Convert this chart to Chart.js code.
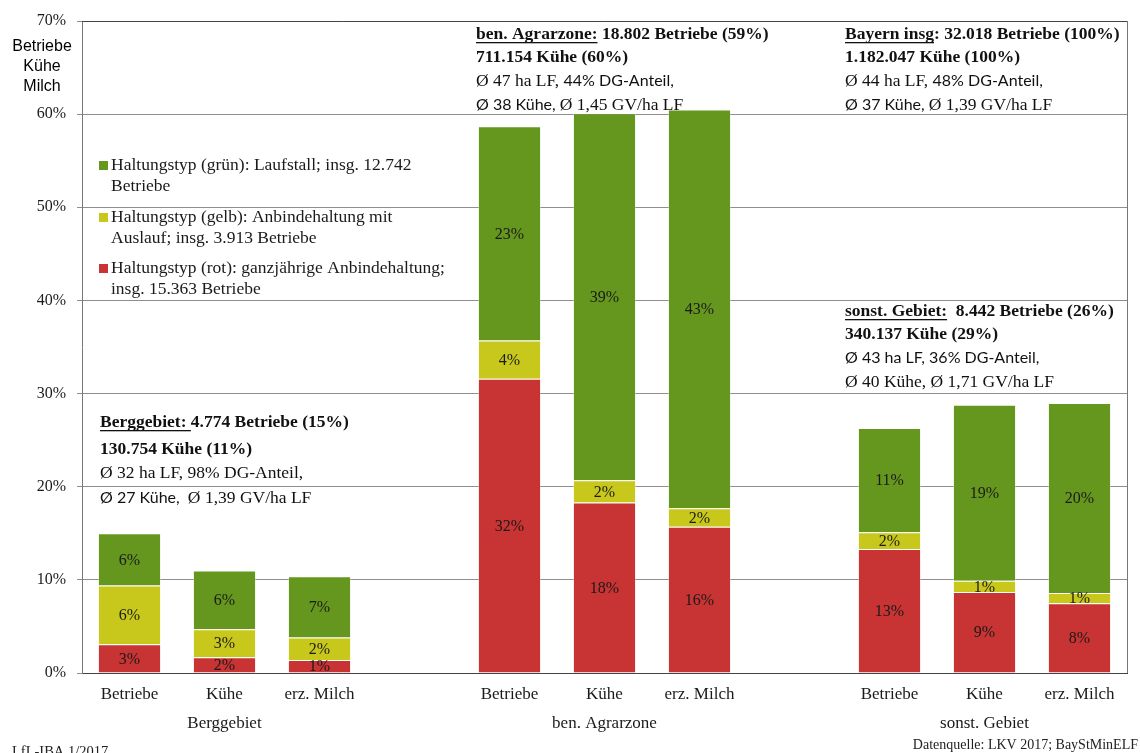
<!DOCTYPE html>
<html>
<head>
<meta charset="utf-8">
<script src="https://cdn.jsdelivr.net/npm/chart.js@4.4.0/dist/chart.umd.min.js"></script>
<style>
  html, body { margin: 0; padding: 0; background: #fff; }
  #wrap { width: 1140px; height: 753px; }
</style>
</head>
<body>
<div id="wrap"><canvas id="milkChart" width="1140" height="753"></canvas></div>
<script>
// categories: three regions, empty slot between them
const categories = ["Betriebe", "Kühe", "erz. Milch", "", "Betriebe", "Kühe", "erz. Milch", "", "Betriebe", "Kühe", "erz. Milch"];
const regions = ["Berggebiet", "ben. Agrarzone", "sonst. Gebiet"];
const regionCenterIndex = [1, 5, 9];

// share of Bavaria total (%) per housing type
const rotValues = [3.1, 1.7, 1.4, null, 31.6, 18.3, 15.7, null, 13.3, 8.7, 7.5];
const gelbValues = [6.3, 3.0, 2.4, null, 4.1, 2.4, 2.0, null, 1.8, 1.2, 1.1];
const gruenValues = [5.6, 6.3, 6.6, null, 23.0, 39.4, 42.8, null, 11.2, 18.9, 20.4];

const yTicks = [0, 10, 20, 30, 40, 50, 60, 70];

const GREEN = "#65961d";
const YELLOW = "#c8c81c";
const RED = "#c83333";

const SERIF = "'Liberation Serif', 'Times New Roman', serif";
const SANS = "'Liberation Sans', Arial, sans-serif";
const CALI = "Lato, 'Open Sans', sans-serif";

const legendItems = [
  { color: GREEN, lines: ["Haltungstyp (grün): Laufstall; insg. 12.742", "Betriebe"], y: 165 },
  { color: YELLOW, lines: ["Haltungstyp (gelb): Anbindehaltung mit", "Auslauf; insg. 3.913 Betriebe"], y: 217 },
  { color: RED, lines: ["Haltungstyp (rot): ganzjährige Anbindehaltung;", "insg. 15.363 Betriebe"], y: 268 },
];

// text blocks: runs of [text, style, underline]; b = bold serif, s = serif, c = sans
const infoBlocks = [
  {
    x: 476, ys: [34, 57, 81, 105],
    lines: [
      [["ben. Agrarzone:", "b", true], [" 18.802 Betriebe (59%)", "b"]],
      [["711.154 Kühe (60%)", "b"]],
      [["Ø 47 ha LF, ", "s"], ["44% DG-Anteil,", "c"]],
      [["Ø 38 Kühe, ", "c"], ["Ø 1,45 GV/ha LF", "s"]],
    ],
  },
  {
    x: 845, ys: [34, 57, 81, 105],
    lines: [
      [["Bayern insg", "b", true], [": 32.018 Betriebe (100%)", "b"]],
      [["1.182.047 Kühe (100%)", "b"]],
      [["Ø 44 ha LF, ", "s"], ["48% DG-Anteil,", "c"]],
      [["Ø 37 Kühe, ", "c"], ["Ø 1,39 GV/ha LF", "s"]],
    ],
  },
  {
    x: 845, ys: [311, 334, 358, 382],
    lines: [
      [["sonst. Gebiet:", "b", true], ["  8.442 Betriebe (26%)", "b"]],
      [["340.137 Kühe (29%)", "b"]],
      [["Ø 43 ha LF, 36% DG-Anteil,", "c"]],
      [["Ø 40 Kühe, Ø 1,71 GV/ha LF", "s"]],
    ],
  },
  {
    x: 100, ys: [422, 449, 473, 498],
    lines: [
      [["Berggebiet: ", "b", true], ["4.774 Betriebe (15%)", "b"]],
      [["130.754 Kühe (11%)", "b"]],
      [["Ø 32 ha LF, 98% DG-Anteil,", "s"]],
      [["Ø 27 Kühe,  ", "c"], ["Ø 1,39 GV/ha LF", "s"]],
    ],
  },
];

const runFonts = {
  b: "bold 17.5px " + SERIF,
  s: "17.5px " + SERIF,
  c: "16px " + CALI,
};

const overlayPlugin = {
  id: "overlay",
  afterDatasetsDraw(chart) {
    const ctx = chart.ctx;
    const area = chart.chartArea;
    ctx.save();

    // frame: top and right border
    ctx.strokeStyle = "#444";
    ctx.lineWidth = 1;
    ctx.beginPath();
    ctx.moveTo(area.left, area.top + 0.5);
    ctx.lineTo(area.right + 0.5, area.top + 0.5);
    ctx.stroke();
    ctx.strokeStyle = "#777";
    ctx.beginPath();
    ctx.moveTo(area.right + 0.5, area.top);
    ctx.lineTo(area.right + 0.5, area.bottom);
    ctx.stroke();

    // segment labels
    ctx.fillStyle = "#1a1a1a";
    ctx.font = "16px " + SERIF;
    ctx.textAlign = "center";
    ctx.textBaseline = "middle";
    chart.data.datasets.forEach((ds, di) => {
      const meta = chart.getDatasetMeta(di);
      meta.data.forEach((el, i) => {
        const v = ds.data[i];
        if (v == null) return;
        ctx.fillText(Math.round(v) + "%", el.x, (el.y + el.base) / 2 + 1);
      });
    });

    // region labels under the middle bar of each group
    const xScale = chart.scales.x;
    ctx.font = "17px " + SERIF;
    regions.forEach((name, i) => {
      ctx.fillText(name, xScale.getPixelForValue(regionCenterIndex[i]), 724);
    });

    // y axis title
    ctx.font = "16px " + SANS;
    ctx.fillStyle = "#000";
    ["Betriebe", "Kühe", "Milch"].forEach((t, i) => ctx.fillText(t, 42, 47 + i * 20));

    // legend
    ctx.textAlign = "left";
    ctx.font = "17.5px " + SERIF;
    legendItems.forEach((item) => {
      ctx.fillStyle = item.color;
      ctx.fillRect(99, item.y - 4, 9, 9);
      ctx.fillStyle = "#1a1a1a";
      item.lines.forEach((t, j) => ctx.fillText(t, 111, item.y + j * 21));
    });

    // info blocks
    infoBlocks.forEach((block) => {
      block.lines.forEach((runs, li) => {
        let x = block.x;
        const y = block.ys[li];
        runs.forEach(([text, style, underline]) => {
          ctx.font = runFonts[style];
          ctx.fillStyle = "#111";
          ctx.fillText(text, x, y);
          const w = ctx.measureText(text).width;
          if (underline) {
            ctx.fillRect(x, y + 8, w, 1.3);
          }
          x += w;
        });
      });
    });

    // footer
    ctx.font = "14.5px " + SERIF;
    ctx.fillStyle = "#222";
    ctx.fillText("LfL-IBA 1/2017", 12, 752);
    ctx.textAlign = "right";
    ctx.font = "14px " + SERIF;
    ctx.fillText("Datenquelle: LKV 2017; BayStMinELF", 1138, 745);

    ctx.restore();
  },
};

const barBorder = "rgba(255,255,255,0.35)";

new Chart(document.getElementById("milkChart"), {
  type: "bar",
  data: {
    labels: categories,
    datasets: [
      { label: "rot", data: rotValues, backgroundColor: RED, borderColor: barBorder, borderWidth: 1 },
      { label: "gelb", data: gelbValues, backgroundColor: YELLOW, borderColor: barBorder, borderWidth: 1 },
      { label: "grün", data: gruenValues, backgroundColor: GREEN, borderColor: barBorder, borderWidth: 1 },
    ],
  },
  options: {
    responsive: false,
    animation: false,
    devicePixelRatio: 1,
    layout: { padding: { left: 0, top: 21, right: 13, bottom: 0 } },
    datasets: { bar: { categoryPercentage: 1, barPercentage: 0.665 } },
    plugins: {
      legend: { display: false },
      tooltip: { enabled: false },
    },
    scales: {
      x: {
        stacked: true,
        grid: { display: false, drawTicks: false },
        border: { color: "#444", width: 1 },
        ticks: {
          autoSkip: false,
          maxRotation: 0,
          padding: 11,
          color: "#1a1a1a",
          font: { family: SERIF, size: 17 },
        },
        afterFit(scale) { scale.height = 80; },
      },
      y: {
        stacked: true,
        min: 0,
        max: 70,
        afterBuildTicks(scale) { scale.ticks = yTicks.map((v) => ({ value: v })); },
        grid: { color: "#8e8e8e", tickLength: 5, lineWidth: 1 },
        border: { color: "#777", width: 1 },
        ticks: {
          padding: 11,
          color: "#1a1a1a",
          font: { family: SERIF, size: 16 },
          callback: (v) => v + "%",
        },
        afterFit(scale) { scale.width = 82; },
      },
    },
  },
  plugins: [overlayPlugin],
});
</script>
</body>
</html>
